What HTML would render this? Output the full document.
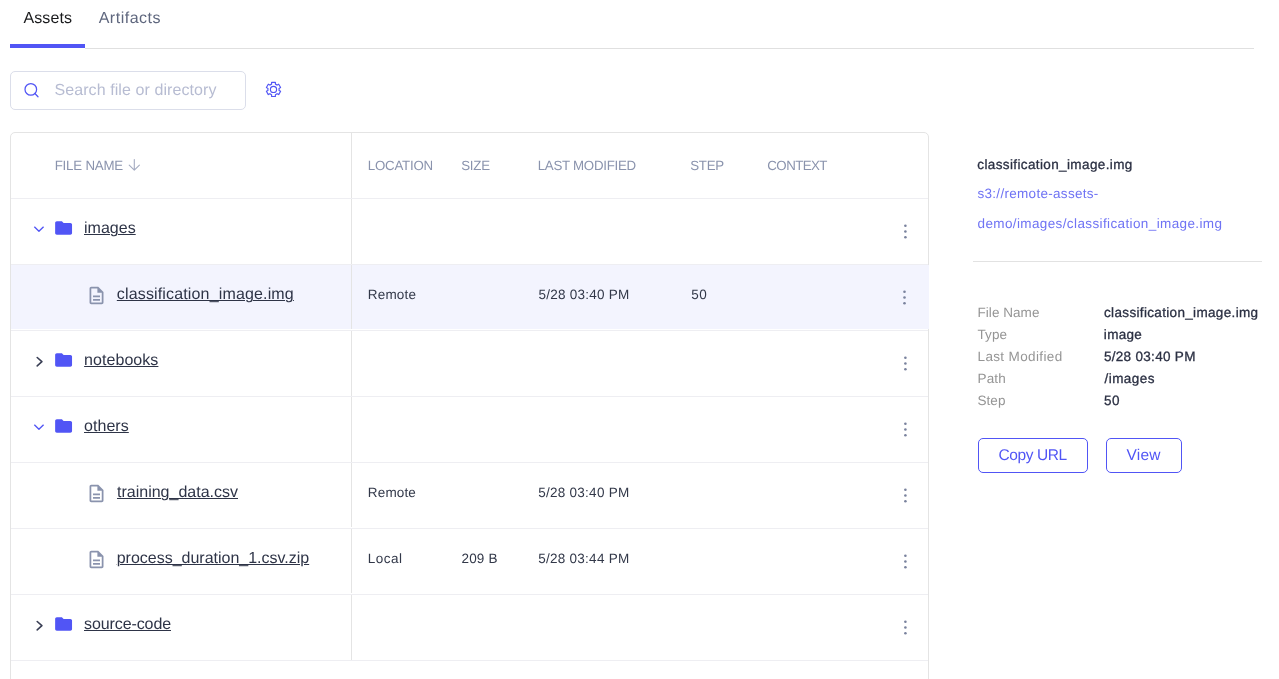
<!DOCTYPE html>
<html lang="en">
<head>
<meta charset="utf-8">
<title>Assets</title>
<style>
  html, body { margin: 0; padding: 0; background: #fff; }
  body {
    width: 1279px; height: 679px; overflow: hidden; position: relative;
    font-family: "Liberation Sans", sans-serif; color: #373d50;
    -webkit-font-smoothing: antialiased; text-rendering: geometricPrecision;
  }
  .abs { position: absolute; }
  span.t { position: absolute; white-space: nowrap; display: block; transform-origin: 0 50%; }
  svg { display: block; overflow: visible; }

  /* tabs */
  .tabs { position: absolute; left: 10px; top: 0; width: 1244px; height: 49px; }
  .tabs .line { position: absolute; left: 75px; right: 0; top: 48px; height: 1px; background: #e0e0e0; }
  .tabs .ink { position: absolute; left: 0; top: 44px; width: 75px; height: 4px; background: #5155f5; }
  .tab { font-size: 16px; line-height: 20px; top: 9px; }
  .tab.on { color: #191a1c; }
  .tab.off { color: #5f677e; }

  /* search */
  .search { position: absolute; left: 10px; top: 71px; width: 234px; height: 37px; border: 1px solid #dbdeea; border-radius: 5px; background: #fff; }
  .search .ph { font-size: 16px; line-height: 20px; color: #b7bcd2; left: 44.5px; top: 9px; }

  /* table */
  .table { position: absolute; left: 10px; top: 132px; width: 917px; height: 600px; border: 1px solid #e4e4e4; border-radius: 5px 5px 0 0; }
  .row { position: absolute; left: 0; width: 917px; height: 65px; border-bottom: 1px solid #eeeef2; }
  .row .vline { position: absolute; left: 340px; top: 0; width: 1px; height: 65px; background: #e4e4e4; }
  .row.file .vline { height: 64px; }
  .row.sel .bg { position: absolute; left: 0; top: 0; width: 918px; height: 64px; background: #f3f4fe; }
  .th { font-size: 13.3px; line-height: 16px; color: #8a93ad; top: 24.5px; }
  .name { font-size: 16px; line-height: 20px; color: #2e3447; text-decoration: underline; text-decoration-thickness: 1px; text-underline-offset: 1px; top: 20px; }
  .folder .name { left: 73px; }
  .file .name { left: 106px; }
  .cell { font-size: 13.5px; line-height: 16px; color: #323849; top: 21.5px; }
  .c1 { left: 357.6px; } .c2 { left: 451px; } .c3 { left: 527.5px; } .c4 { left: 680px; } .c5 { left: 757px; }

  /* side panel */
  .title { font-size: 13.5px; line-height: 16px; color: #2b3043; left: 978px; top: 156.5px; -webkit-text-stroke: 0.3px #2b3043; }
  .url { font-size: 13.5px; line-height: 16px; color: #6f73f4; left: 978px; }
  .hr { position: absolute; left: 973px; top: 261px; width: 289px; height: 1px; background: #e2e2e2; }
  .lab { font-size: 13.5px; line-height: 16px; color: #959595; left: 978px; }
  .val { font-size: 13.5px; line-height: 16px; color: #2b3043; left: 1104.5px; -webkit-text-stroke: 0.3px #2b3043; }
  .btn { position: absolute; top: 438px; height: 33px; border: 1px solid #5155f5; border-radius: 5px; background: #fff; }
  .btn span.t { color: #5155f5; font-size: 15.5px; line-height: 20px; top: 6.6px; }
</style>
<style id="tune">
#t1{letter-spacing:0.107px;margin-left:-0.10px}
#t2{letter-spacing:0.513px;margin-left:-0.33px}
#t3{letter-spacing:0.086px;margin-left:-1.09px}
#t4{letter-spacing:-0.208px;margin-left:-1.16px}
#t5{letter-spacing:-0.228px;margin-left:-0.79px}
#t6{letter-spacing:-0.219px;margin-left:-0.87px}
#t7{letter-spacing:-0.269px;margin-left:-0.82px}
#t8{letter-spacing:-0.293px;margin-left:-0.76px}
#t9{letter-spacing:-0.578px;margin-left:-0.67px}
#t10{letter-spacing:0.019px;margin-left:0.00px}
#t11{letter-spacing:0.153px;margin-left:-0.20px}
#t12{letter-spacing:0.174px;margin-left:-0.78px}
#t13{letter-spacing:0.250px;margin-left:-0.12px}
#t14{letter-spacing:0.308px;margin-left:0.36px}
#t15{letter-spacing:0.050px;margin-left:0.10px}
#t16{letter-spacing:0.054px;margin-left:0.00px}
#t17{letter-spacing:0.002px;margin-left:0.00px}
#t18{letter-spacing:0.151px;margin-left:-0.77px}
#t19{letter-spacing:0.274px;margin-left:-0.38px}
#t20{letter-spacing:-0.009px;margin-left:-0.30px}
#t21{letter-spacing:0.495px;margin-left:-0.77px}
#t22{letter-spacing:0.154px;margin-left:-0.53px}
#t23{letter-spacing:0.274px;margin-left:-0.38px}
#t24{letter-spacing:-0.096px;margin-left:0.00px}
#t25{letter-spacing:0.378px;margin-left:-0.72px}
#t26{letter-spacing:0.297px;margin-left:-0.57px}
#t27{letter-spacing:0.383px;margin-left:-0.53px}
#t28{letter-spacing:0.046px;margin-left:-0.49px}
#t29{letter-spacing:0.336px;margin-left:-0.48px}
#t30{letter-spacing:0.129px;margin-left:-0.59px}
#t31{letter-spacing:0.312px;margin-left:-0.67px}
#t32{letter-spacing:0.361px;margin-left:-0.49px}
#t33{letter-spacing:0.304px;margin-left:-0.58px}
#t34{letter-spacing:0.168px;margin-left:-0.49px}
#t35{letter-spacing:0.469px;margin-left:-0.04px}
#t36{letter-spacing:0.059px;margin-left:-0.54px}
#t37{letter-spacing:0.592px;margin-left:-0.55px}
#t38{letter-spacing:-0.389px;margin-left:-0.59px}
#t39{letter-spacing:0.273px;margin-left:-0.60px}
</style>
</head>
<body>

<div class="tabs">
  <div class="line"></div>
  <div class="ink"></div>
  <span id="t1" class="t tab on" style="left:13.5px">Assets</span>
  <span id="t2" class="t tab off" style="left:89px">Artifacts</span>
</div>

<div class="search">
  <svg class="abs" style="left:0;top:0" width="40" height="37" viewBox="0 0 40 37" fill="none" stroke="#5155f5" stroke-width="1.25" stroke-linecap="round">
    <circle cx="19.8" cy="17.4" r="5.8"/><path d="M23.9 21.5 L27 24.8"/>
  </svg>
  <span id="t3" class="t ph">Search file or directory</span>
</div>

<svg class="abs" style="left:264px;top:80px" width="20" height="20" viewBox="0 0 20 20" fill="none" stroke="#5155f5" stroke-width="1.15" stroke-linejoin="round">
  <path d="M7.60 4.13L7.60 2.30 L11.40 2.30 L11.40 4.13A5.60 5.60 0 0 1 13.11 5.12L14.70 4.20 L16.60 7.50 L15.01 8.41A5.60 5.60 0 0 1 15.01 10.39L16.60 11.30 L14.70 14.60 L13.11 13.68A5.60 5.60 0 0 1 11.40 14.67L11.40 16.50 L7.60 16.50 L7.60 14.67A5.60 5.60 0 0 1 5.89 13.68L4.30 14.60 L2.40 11.30 L3.99 10.39A5.60 5.60 0 0 1 3.99 8.41L2.40 7.50 L4.30 4.20 L5.89 5.12A5.60 5.60 0 0 1 7.60 4.13 Z"/>
  <circle cx="9.5" cy="9.4" r="3.1"/>
</svg>

<div class="table">
  <!-- header -->
  <div class="row head" style="top:0">
    <div class="vline"></div>
    <span id="t4" class="t th" style="left:44.8px">FILE NAME</span>
    <svg class="abs" style="left:0;top:0" width="340" height="65" viewBox="0 0 340 65" fill="none" stroke="#a4abc1" stroke-width="1.1" stroke-linecap="round" stroke-linejoin="round">
      <path d="M123.3 26.6 V37.1 M118.2 32.1 L123.3 37.2 L128.4 32.1"/>
    </svg>
    <span id="t5" class="t th c1">LOCATION</span>
    <span id="t6" class="t th c2">SIZE</span>
    <span id="t7" class="t th c3">LAST MODIFIED</span>
    <span id="t8" class="t th c4">STEP</span>
    <span id="t9" class="t th c5">CONTEXT</span>
  </div>
  <div class="row folder" style="top:66px">
    <div class="vline"></div>
    <svg class="abs" style="left:0;top:0" width="340" height="65" viewBox="0 0 340 65"><path d="M23.6 28.1 L27.95 32.3 L32.3 28.1" fill="none" stroke="#5155f5" stroke-width="1.35" stroke-linecap="round" stroke-linejoin="round"/><g transform="translate(42.45 18.85) scale(0.845)" fill="#5155f5"><path d="M10 4H4c-1.1 0-1.99.9-1.99 2L2 18c0 1.1.9 2 2 2h16c1.1 0 2-.9 2-2V8c0-1.1-.9-2-2-2h-8l-2-2z"/></g></svg>
    <span id="t10" class="t name">images</span>
    <svg class="abs" style="left:880px;top:0" width="30" height="65" viewBox="0 0 30 65" fill="#79829d"><circle cx="14.4" cy="26.8" r="1.3"/><circle cx="14.4" cy="32.5" r="1.3"/><circle cx="14.4" cy="38.2" r="1.3"/></svg>
  </div>
  <div class="row file sel" style="top:132px">
    <div class="bg"></div>
    <div class="vline"></div>
    <svg class="abs" style="left:0;top:0" width="340" height="65" viewBox="0 0 340 65"><g transform="translate(75.05 20) scale(0.872)" fill="#8a93ad"><path d="M8 16h8v2H8zm0-4h8v2H8zm6-10H6c-1.1 0-2 .9-2 2v16c0 1.1.89 2 1.990 2H18c1.1 0 2-.9 2-2V8l-6-6zm4 18H6V4h7v5h5v11z"/></g></svg>
    <span id="t11" class="t name">classification_image.img</span>
    <span id="t12" class="t cell c1">Remote</span>
    <span id="t13" class="t cell c3">5/28 03:40 PM</span>
    <span id="t14" class="t cell c4">50</span>
    <svg class="abs" style="left:880px;top:0" width="30" height="65" viewBox="0 0 30 65" fill="#79829d"><circle cx="13.5" cy="26.8" r="1.3"/><circle cx="13.5" cy="32.5" r="1.3"/><circle cx="13.5" cy="38.2" r="1.3"/></svg>
  </div>
  <div class="row folder" style="top:198px">
    <div class="vline"></div>
    <svg class="abs" style="left:0;top:0" width="340" height="65" viewBox="0 0 340 65"><path d="M26.2 26.5 L30.9 30.7 L26.2 34.9" fill="none" stroke="#3a3f55" stroke-width="1.6" stroke-linecap="round" stroke-linejoin="round"/><g transform="translate(42.45 18.85) scale(0.845)" fill="#5155f5"><path d="M10 4H4c-1.1 0-1.99.9-1.99 2L2 18c0 1.1.9 2 2 2h16c1.1 0 2-.9 2-2V8c0-1.1-.9-2-2-2h-8l-2-2z"/></g></svg>
    <span id="t15" class="t name">notebooks</span>
    <svg class="abs" style="left:880px;top:0" width="30" height="65" viewBox="0 0 30 65" fill="#79829d"><circle cx="14.4" cy="26.8" r="1.3"/><circle cx="14.4" cy="32.5" r="1.3"/><circle cx="14.4" cy="38.2" r="1.3"/></svg>
  </div>
  <div class="row folder" style="top:264px">
    <div class="vline"></div>
    <svg class="abs" style="left:0;top:0" width="340" height="65" viewBox="0 0 340 65"><path d="M23.6 28.1 L27.95 32.3 L32.3 28.1" fill="none" stroke="#5155f5" stroke-width="1.35" stroke-linecap="round" stroke-linejoin="round"/><g transform="translate(42.45 18.85) scale(0.845)" fill="#5155f5"><path d="M10 4H4c-1.1 0-1.99.9-1.99 2L2 18c0 1.1.9 2 2 2h16c1.1 0 2-.9 2-2V8c0-1.1-.9-2-2-2h-8l-2-2z"/></g></svg>
    <span id="t16" class="t name">others</span>
    <svg class="abs" style="left:880px;top:0" width="30" height="65" viewBox="0 0 30 65" fill="#79829d"><circle cx="14.4" cy="26.8" r="1.3"/><circle cx="14.4" cy="32.5" r="1.3"/><circle cx="14.4" cy="38.2" r="1.3"/></svg>
  </div>
  <div class="row file" style="top:330px">
    <div class="vline"></div>
    <svg class="abs" style="left:0;top:0" width="340" height="65" viewBox="0 0 340 65"><g transform="translate(75.05 20) scale(0.872)" fill="#8a93ad"><path d="M8 16h8v2H8zm0-4h8v2H8zm6-10H6c-1.1 0-2 .9-2 2v16c0 1.1.89 2 1.990 2H18c1.1 0 2-.9 2-2V8l-6-6zm4 18H6V4h7v5h5v11z"/></g></svg>
    <span id="t17" class="t name">training_data.csv</span>
    <span id="t18" class="t cell c1">Remote</span>
    <span id="t19" class="t cell c3">5/28 03:40 PM</span>
    <svg class="abs" style="left:880px;top:0" width="30" height="65" viewBox="0 0 30 65" fill="#79829d"><circle cx="14.4" cy="26.8" r="1.3"/><circle cx="14.4" cy="32.5" r="1.3"/><circle cx="14.4" cy="38.2" r="1.3"/></svg>
  </div>
  <div class="row file" style="top:396px">
    <div class="vline"></div>
    <svg class="abs" style="left:0;top:0" width="340" height="65" viewBox="0 0 340 65"><g transform="translate(75.05 20) scale(0.872)" fill="#8a93ad"><path d="M8 16h8v2H8zm0-4h8v2H8zm6-10H6c-1.1 0-2 .9-2 2v16c0 1.1.89 2 1.990 2H18c1.1 0 2-.9 2-2V8l-6-6zm4 18H6V4h7v5h5v11z"/></g></svg>
    <span id="t20" class="t name">process_duration_1.csv.zip</span>
    <span id="t21" class="t cell c1">Local</span>
    <span id="t22" class="t cell c2">209 B</span>
    <span id="t23" class="t cell c3">5/28 03:44 PM</span>
    <svg class="abs" style="left:880px;top:0" width="30" height="65" viewBox="0 0 30 65" fill="#79829d"><circle cx="14.4" cy="26.8" r="1.3"/><circle cx="14.4" cy="32.5" r="1.3"/><circle cx="14.4" cy="38.2" r="1.3"/></svg>
  </div>
  <div class="row folder" style="top:462px">
    <div class="vline"></div>
    <svg class="abs" style="left:0;top:0" width="340" height="65" viewBox="0 0 340 65"><path d="M26.2 26.5 L30.9 30.7 L26.2 34.9" fill="none" stroke="#3a3f55" stroke-width="1.6" stroke-linecap="round" stroke-linejoin="round"/><g transform="translate(42.45 18.85) scale(0.845)" fill="#5155f5"><path d="M10 4H4c-1.1 0-1.99.9-1.99 2L2 18c0 1.1.9 2 2 2h16c1.1 0 2-.9 2-2V8c0-1.1-.9-2-2-2h-8l-2-2z"/></g></svg>
    <span id="t24" class="t name">source-code</span>
    <svg class="abs" style="left:880px;top:0" width="30" height="65" viewBox="0 0 30 65" fill="#79829d"><circle cx="14.4" cy="26.8" r="1.3"/><circle cx="14.4" cy="32.5" r="1.3"/><circle cx="14.4" cy="38.2" r="1.3"/></svg>
  </div>
  <div class="row" style="top:528px;border-bottom:none"></div>
</div>

<span id="t25" class="t title">classification_image.img</span>
<span id="t26" class="t url" style="top:185.5px">s3://remote-assets-</span>
<span id="t27" class="t url" style="top:215.5px">demo/images/classification_image.img</span>
<div class="hr"></div>
<span id="t28" class="t lab" style="top:304.5px">File Name</span><span id="t29" class="t val" style="top:304.5px">classification_image.img</span>
<span id="t30" class="t lab" style="top:326.5px">Type</span><span id="t31" class="t val" style="top:326.5px">image</span>
<span id="t32" class="t lab" style="top:348.5px">Last Modified</span><span id="t33" class="t val" style="top:348.5px">5/28 03:40 PM</span>
<span id="t34" class="t lab" style="top:370.5px">Path</span><span id="t35" class="t val" style="top:370.5px">/images</span>
<span id="t36" class="t lab" style="top:392.5px">Step</span><span id="t37" class="t val" style="top:392.5px">50</span>
<div class="btn" style="left:978px;width:108px"><span id="t38" class="t" style="left:20px">Copy URL</span></div>
<div class="btn" style="left:1106px;width:74px"><span id="t39" class="t" style="left:20px">View</span></div>

</body>
</html>
